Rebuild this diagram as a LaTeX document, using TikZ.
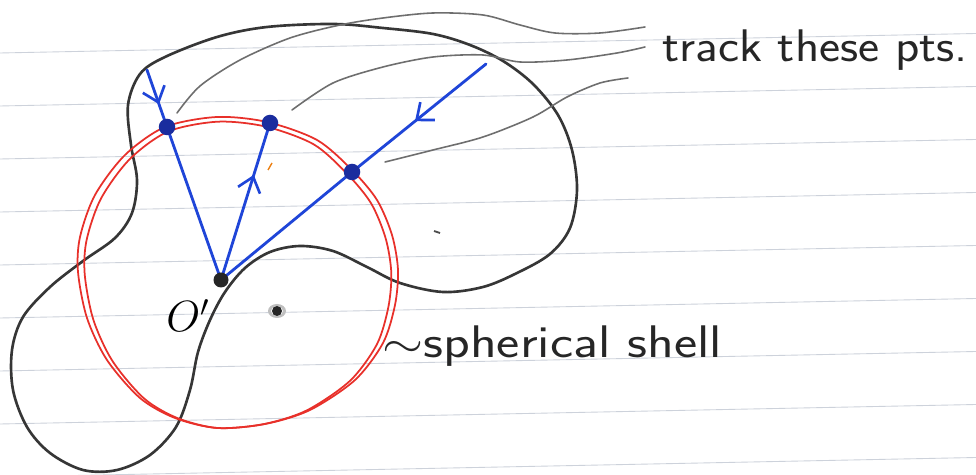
\documentclass[tikz,border=0pt]{standalone}
\usepackage{graphicx}
\usetikzlibrary{arrows.meta,decorations.markings}
\definecolor{pencil}{HTML}{363636}
\definecolor{leadgray}{HTML}{6E6E6E}
\definecolor{inkblue}{HTML}{1F45D8}
\definecolor{dotblue}{HTML}{1A2C9E}
\definecolor{inkred}{HTML}{E8302A}
\definecolor{ruledc}{HTML}{CDD2DB}
\begin{document}
\begin{tikzpicture}[x=0.02cm,y=-0.02cm,
  ruled/.style={draw=ruledc,line width=0.5pt},
  pencil/.style={draw=pencil,line width=1.5pt,line cap=round,line join=round},
  leader/.style={draw=leadgray,line width=0.9pt,line cap=round},
  redline/.style={draw=inkred,line width=1.0pt},
  blueline/.style={draw=inkblue,line width=1.6pt,line cap=round},
  midarrow/.style={postaction={decorate},decoration={markings,
     mark=at position #1 with {\arrow[inkblue,line width=1.5pt]{Straight Barb[length=2.8mm,width=4.6mm]}}}},
  bluedot/.style={circle,fill=dotblue,inner sep=0pt,minimum size=0.33cm},
  blackdot/.style={circle,fill=black!85,inner sep=0pt,minimum size=0.3cm},
  hand/.style={inner sep=0pt,font=\sffamily\fontsize{26}{30}\selectfont,text=black!85}]
\useasboundingbox (0,0) rectangle (976,475);
\fill[white] (0,0) rectangle (976,475);
% ruled paper
\foreach \k in {1,...,9} \draw[ruled] (0,{53*\k}) -- (976,{53*\k-19.5});
% black pencil outline
\draw[pencil] plot[smooth cycle,tension=0.55] coordinates {
 (128,105) (140,74) (165,57) (217,37) (267,27) (333,24) (383,28) (433,34)
 (470,45) (503,61) (533,84) (558,115) (572,150) (577,190) (570,228) (550,254)
 (517,273) (483,287) (443,292) (400,283) (367,267) (333,251) (300,246) (270,252)
 (245,268) (225,292) (210,320) (198,352) (190,390) (176,427) (150,455) (117,470)
 (83,470) (50,453) (27,427) (13,390) (12,350) (23,317) (50,287) (83,261)
 (115,238) (132,213) (137,180) (131,145)};
% red spherical shell (two strokes)
\draw[redline] plot[smooth cycle] coordinates {
 (217,117) (267,122) (317,140) (352,170) (377,200) (392,235) (398,270) (395,305)
 (383,343) (355,380) (310,410) (265,424) (217,428) (175,418) (140,398) (107,360)
 (87,318) (78,272) (80,237) (95,195) (125,155) (165,127)};
\begin{scope}[shift={(238,430)},xscale=0.958,yscale=0.985,shift={(-238,-430)}]
\draw[redline] plot[smooth cycle] coordinates {
 (217,117) (267,122) (317,140) (352,170) (377,200) (392,235) (398,270) (395,305)
 (383,343) (355,380) (310,410) (265,424) (217,428) (175,418) (140,398) (107,360)
 (87,318) (78,272) (80,237) (95,195) (125,155) (165,127)};
\end{scope}
% leader lines
\draw[leader] plot[smooth] coordinates {(177,113) (200,86) (240,60) (290,38) (340,25) (383,18) (433,13) (483,15) (520,25) (555,33) (600,33) (645,27)};
\draw[leader] plot[smooth] coordinates {(292,110) (333,83) (383,67) (433,57) (483,55) (520,62) (567,60) (617,53) (645,47)};
\draw[leader] plot[smooth] coordinates {(385,162) (433,150) (483,137) (533,117) (567,97) (600,83) (628,78)};
% points
\coordinate (O) at (221,280);
\coordinate (P1) at (167,127);
\coordinate (P2) at (270,123);
\coordinate (P3) at (352,172);
\coordinate (Q1) at (147,70);
\coordinate (Q3) at (486,64);
% blue rays
\draw[blueline,midarrow=0.6] (Q1) -- (P1);
\draw[blueline] (P1) -- (O);
\draw[blueline,midarrow=0.67] (O) -- (P2);
\draw[blueline,midarrow=0.53] (Q3) -- (P3);
\draw[blueline] (P3) -- (O);
\node[bluedot] (p1) at (P1) {};
\node[bluedot] (p2) at (P2) {};
\node[bluedot] (p3) at (P3) {};
\node[blackdot] (o) at (O) {};
% smudged second dot
\fill[black!25] (277,311) ellipse [x radius=9,y radius=7];
\fill[white] (277,311) ellipse [x radius=6,y radius=4.5];
\node[circle,fill=black!85,inner sep=0pt,minimum size=0.2cm] (c) at (277,311) {};
% specks
\draw[black!70,line width=1pt] (434,231) -- (440,233);
\draw[orange!70!brown,line width=0.8pt] (268,170) -- (272,163);
% labels
\node[anchor=base west,inner sep=0pt,font=\fontsize{25}{28}\selectfont] (ol) at (166,332) {$O'$};
\node[hand,anchor=base west] (t1) at (662,62) {\scalebox{1.1}[1]{track these pts.}};
\node[hand,anchor=base west] (t2) at (382,358) {\scalebox{1.21}[1]{$\sim$spherical shell}};
\end{tikzpicture}
\end{document}
